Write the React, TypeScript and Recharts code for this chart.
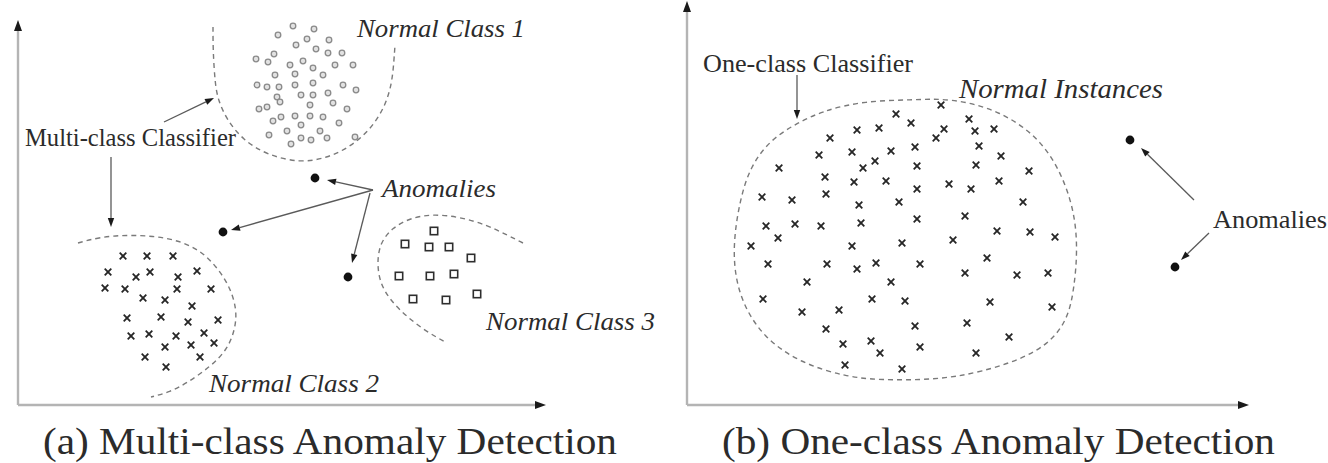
import { ScatterChart, Scatter, XAxis, YAxis, ReferenceLine, ReferenceDot } from 'recharts';

type Pt = { x: number; y: number };
const toPts = (a: number[][]): Pt[] => a.map(([x, y]) => ({ x, y }));

// ---- (a) multi-class panel, units measured from the axes origin ----
const class1Circles = toPts([
  [275, 379], [296, 376], [260, 370], [289, 366], [311, 365], [278, 360], [298, 356], [310, 352],
  [324, 352], [256, 351], [238, 346], [250, 343], [285, 344], [272, 340], [317, 340], [335, 340],
  [295, 337], [257, 330], [277, 331], [305, 330], [239, 320], [249, 318], [261, 318], [277, 320],
  [295, 322], [325, 320], [338, 315], [259, 308], [262, 303], [283, 310], [295, 310], [310, 312],
  [315, 302], [241, 296], [249, 298], [292, 300], [329, 296], [255, 284], [263, 288], [277, 289],
  [292, 289], [305, 288], [283, 280], [321, 282], [269, 274], [302, 274], [251, 270], [283, 267],
  [293, 265], [309, 267], [337, 268], [273, 261],
]);
const class2Crosses = toPts([
  [105, 149], [129, 149], [155, 149], [90, 133], [118, 128], [132, 133], [160, 128], [179, 134],
  [87, 117], [107, 116], [159, 116], [193, 116], [125, 107], [147, 105], [174, 99], [109, 87],
  [143, 88], [170, 83], [200, 85], [113, 69], [131, 71], [158, 69], [186, 72], [196, 62],
  [173, 60], [147, 58], [127, 48], [182, 48], [148, 38],
]);
const class3Squares = toPts([
  [416, 174], [387, 161], [411, 158], [431, 158], [453, 147], [381, 129], [412, 129], [436, 131],
  [395, 106], [428, 105], [459, 111],
]);
const anomaliesA = toPts([[297, 227], [205, 173], [330, 128]]);

const boundary1 = toPts([
  [195, 378], [195, 355], [197, 322], [200, 305], [209, 285], [225, 265], [249, 250], [282, 242],
  [309, 247], [332, 258], [352, 275], [367, 298], [374, 322], [376, 345], [377, 360],
]);
const boundary2 = toPts([
  [60, 162], [82, 168], [109, 170], [135, 169], [159, 165], [182, 155], [199, 138], [212, 118],
  [219, 95], [217, 75], [209, 55], [192, 38], [169, 22], [152, 13], [133, 8],
]);
const boundary3 = toPts([
  [505, 162], [489, 170], [469, 180], [442, 188], [415, 191], [392, 187], [374, 177], [362, 162],
  [359, 142], [362, 122], [372, 105], [389, 88], [409, 73], [429, 62],
]);

const arrowsA = [
  [146, 283, 196, 307],
  [93, 248, 93, 178],
  [355, 215, 309, 225],
  [355, 215, 213, 175],
  [352, 212, 334, 142],
];

const labelsA = [
  { text: 'Normal Class 1', x: 339, y: 368, italic: true },
  { text: 'Multi-class Classifier', x: 7, y: 259, italic: false },
  { text: 'Anomalies', x: 364, y: 208, italic: true },
  { text: 'Normal Class 2', x: 191, y: 13, italic: true },
  { text: 'Normal Class 3', x: 468, y: 75, italic: true },
];

// ---- (b) one-class panel ----
const normalCrosses = toPts([
  [209, 291], [170, 275], [192, 277], [143, 267], [132, 250], [165, 253], [204, 254], [176, 237],
  [188, 244], [92, 237], [138, 228], [167, 223], [199, 224], [75, 208], [105, 205], [139, 211],
  [172, 200], [212, 203], [79, 179], [108, 181], [134, 179], [174, 182], [91, 167], [64, 159],
  [165, 159], [215, 162], [81, 141], [140, 141], [170, 136], [189, 142], [120, 123], [204, 123],
  [76, 106], [185, 106], [218, 104], [115, 93], [152, 95], [139, 76], [156, 61], [184, 64],
  [193, 52], [158, 40], [215, 36],
  [254, 300], [224, 282], [282, 286], [257, 276], [249, 267], [288, 274], [307, 276], [228, 258],
  [292, 259], [314, 249], [230, 239], [289, 240], [342, 234], [262, 221], [284, 216], [312, 224],
  [230, 216], [336, 203], [230, 186], [278, 189], [310, 174], [343, 173], [368, 168], [266, 165],
  [233, 141], [300, 147], [278, 132], [330, 130], [361, 132], [303, 103], [365, 98], [228, 79],
  [280, 82], [322, 68], [233, 58], [289, 52],
]);
const anomaliesB = toPts([[443, 265], [488, 138]]);
const boundaryB = toPts([
  [110, 282], [138, 295], [178, 304], [223, 305], [263, 307], [313, 295], [360, 262], [386, 205],
  [391, 158], [387, 115], [380, 82], [353, 52], [293, 32], [246, 25], [193, 25], [160, 28],
  [113, 42], [76, 68], [55, 102], [47, 135], [47, 168], [53, 205], [63, 238], [83, 265],
]);

const arrowsB = [
  [110, 330, 110, 286],
  [507, 205, 454, 257],
  [522, 172, 494, 145],
];

const labelsB = [
  { text: 'One-class Classifier', x: 16, y: 333, italic: false },
  { text: 'Normal Instances', x: 272, y: 307, italic: true },
  { text: 'Anomalies', x: 526, y: 177, italic: false },
];

// rendered widths of the labels, px
const labelWidth: Record<string, number> = {
  'Normal Class 1': 168,
  'Multi-class Classifier': 211,
  'Anomalies': 114,
  'Normal Class 2': 170,
  'Normal Class 3': 169,
  'One-class Classifier': 210,
  'Normal Instances': 204,
};

const FONT = 'Liberation Serif, DejaVu Serif, Times New Roman, serif';
const INK = '#2b2b2b';

const Circle = (p: any) => <circle cx={p.cx} cy={p.cy} r={2.8} fill="#e2e2e2" stroke="#8a8a8a" strokeWidth={1.3} />;
const Cross = (p: any) => (
  <g stroke="#262626" strokeWidth={1.8}>
    <line x1={p.cx - 3.3} y1={p.cy - 3.3} x2={p.cx + 3.3} y2={p.cy + 3.3} />
    <line x1={p.cx - 3.3} y1={p.cy + 3.3} x2={p.cx + 3.3} y2={p.cy - 3.3} />
  </g>
);
const Square = (p: any) => (
  <rect x={p.cx - 3.7} y={p.cy - 3.7} width={7.4} height={7.4} fill="#fff" stroke="#2e2e2e" strokeWidth={1.6} />
);
const Dot = (p: any) => <circle cx={p.cx} cy={p.cy} r={4.4} fill="#111" />;
const NoMark = () => <g />;

function arrowShape(color: string, width: number, len: number, half: number) {
  return (p: any) => {
    const { x1, y1, x2, y2 } = p;
    const a = Math.atan2(y2 - y1, x2 - x1);
    const bx = x2 - len * Math.cos(a);
    const by = y2 - len * Math.sin(a);
    const nx = -Math.sin(a) * half;
    const ny = Math.cos(a) * half;
    return (
      <g>
        <line x1={x1} y1={y1} x2={bx} y2={by} stroke={color} strokeWidth={width} />
        <polygon points={`${x2},${y2} ${bx + nx},${by + ny} ${bx - nx},${by - ny}`} fill="#1a1a1a" />
      </g>
    );
  };
}
const annArrow = arrowShape('#5a5a5a', 1.3, 9, 3.2);
const axisArrow = arrowShape('#b4b4b4', 2.4, 11, 4);

function labelShape(l: { text: string; italic: boolean }) {
  return (p: any) => (
    <text
      x={p.cx}
      y={p.cy}
      style={{ fontFamily: FONT, fontStyle: l.italic ? 'italic' : 'normal' }}
      fontSize={l.text === 'Normal Instances' ? 27 : 25}
      fill={INK}
      textLength={labelWidth[l.text]}
      lengthAdjust="spacingAndGlyphs"
    >
      {l.text}
    </text>
  );
}

const dashed = { stroke: '#7a7a7a', strokeWidth: 1.4, strokeDasharray: '5 4' };

function Panel({ width, margin, xMax, yMax, children }: any) {
  return (
    <ScatterChart width={width} height={463} margin={margin}>
      <XAxis type="number" dataKey="x" domain={[0, xMax]} allowDataOverflow hide />
      <YAxis type="number" dataKey="y" domain={[0, yMax]} allowDataOverflow hide />
      <ReferenceLine segment={[{ x: 0, y: 0 }, { x: xMax, y: 0 }]} shape={axisArrow} />
      <ReferenceLine segment={[{ x: 0, y: 0 }, { x: 0, y: yMax }]} shape={axisArrow} />
      {children}
    </ScatterChart>
  );
}

export default function App() {
  return (
    <div style={{ position: 'relative', width: 1328, height: 463, background: '#fff', overflow: 'hidden' }}>
      <style>{'body{margin:0}'}</style>
      <div style={{ position: 'absolute', left: 0, top: 0 }}>
        <Panel width={680} margin={{ top: 20, right: 134, bottom: 58, left: 18 }} xMax={528} yMax={385}>
          <Scatter data={boundary1} shape={NoMark} line={dashed} lineJointType="basis" isAnimationActive={false} />
          <Scatter data={boundary2} shape={NoMark} line={dashed} lineJointType="basis" isAnimationActive={false} />
          <Scatter data={boundary3} shape={NoMark} line={dashed} lineJointType="basis" isAnimationActive={false} />
          <Scatter data={class1Circles} shape={Circle} isAnimationActive={false} />
          <Scatter data={class2Crosses} shape={Cross} isAnimationActive={false} />
          <Scatter data={class3Squares} shape={Square} isAnimationActive={false} />
          <Scatter data={anomaliesA} shape={Dot} isAnimationActive={false} />
          {arrowsA.map(([x1, y1, x2, y2], i) => (
            <ReferenceLine key={`aa${i}`} segment={[{ x: x1, y: y1 }, { x: x2, y: y2 }]} shape={annArrow} />
          ))}
          {labelsA.map((l) => (
            <ReferenceDot key={l.text} x={l.x} y={l.y} shape={labelShape(l)} />
          ))}
        </Panel>
      </div>
      <div style={{ position: 'absolute', left: 680, top: 0 }}>
        <Panel width={648} margin={{ top: 1, right: 79, bottom: 58, left: 7 }} xMax={562} yMax={404}>
          <Scatter data={boundaryB} shape={NoMark} line={dashed} lineJointType="basisClosed" isAnimationActive={false} />
          <Scatter data={normalCrosses} shape={Cross} isAnimationActive={false} />
          <Scatter data={anomaliesB} shape={Dot} isAnimationActive={false} />
          {arrowsB.map(([x1, y1, x2, y2], i) => (
            <ReferenceLine key={`ab${i}`} segment={[{ x: x1, y: y1 }, { x: x2, y: y2 }]} shape={annArrow} />
          ))}
          {labelsB.map((l) => (
            <ReferenceDot key={l.text + 'b'} x={l.x} y={l.y} shape={labelShape(l)} />
          ))}
        </Panel>
      </div>
      <svg width={1328} height={463} style={{ position: 'absolute', left: 0, top: 0, pointerEvents: 'none' }}>
        <text x={43} y={454} style={{ fontFamily: FONT }} fontSize={37} fill={INK} textLength={574} lengthAdjust="spacingAndGlyphs">
          (a) Multi-class Anomaly Detection
        </text>
        <text x={722} y={454} style={{ fontFamily: FONT }} fontSize={37} fill={INK} textLength={553} lengthAdjust="spacingAndGlyphs">
          (b) One-class Anomaly Detection
        </text>
      </svg>
    </div>
  );
}
